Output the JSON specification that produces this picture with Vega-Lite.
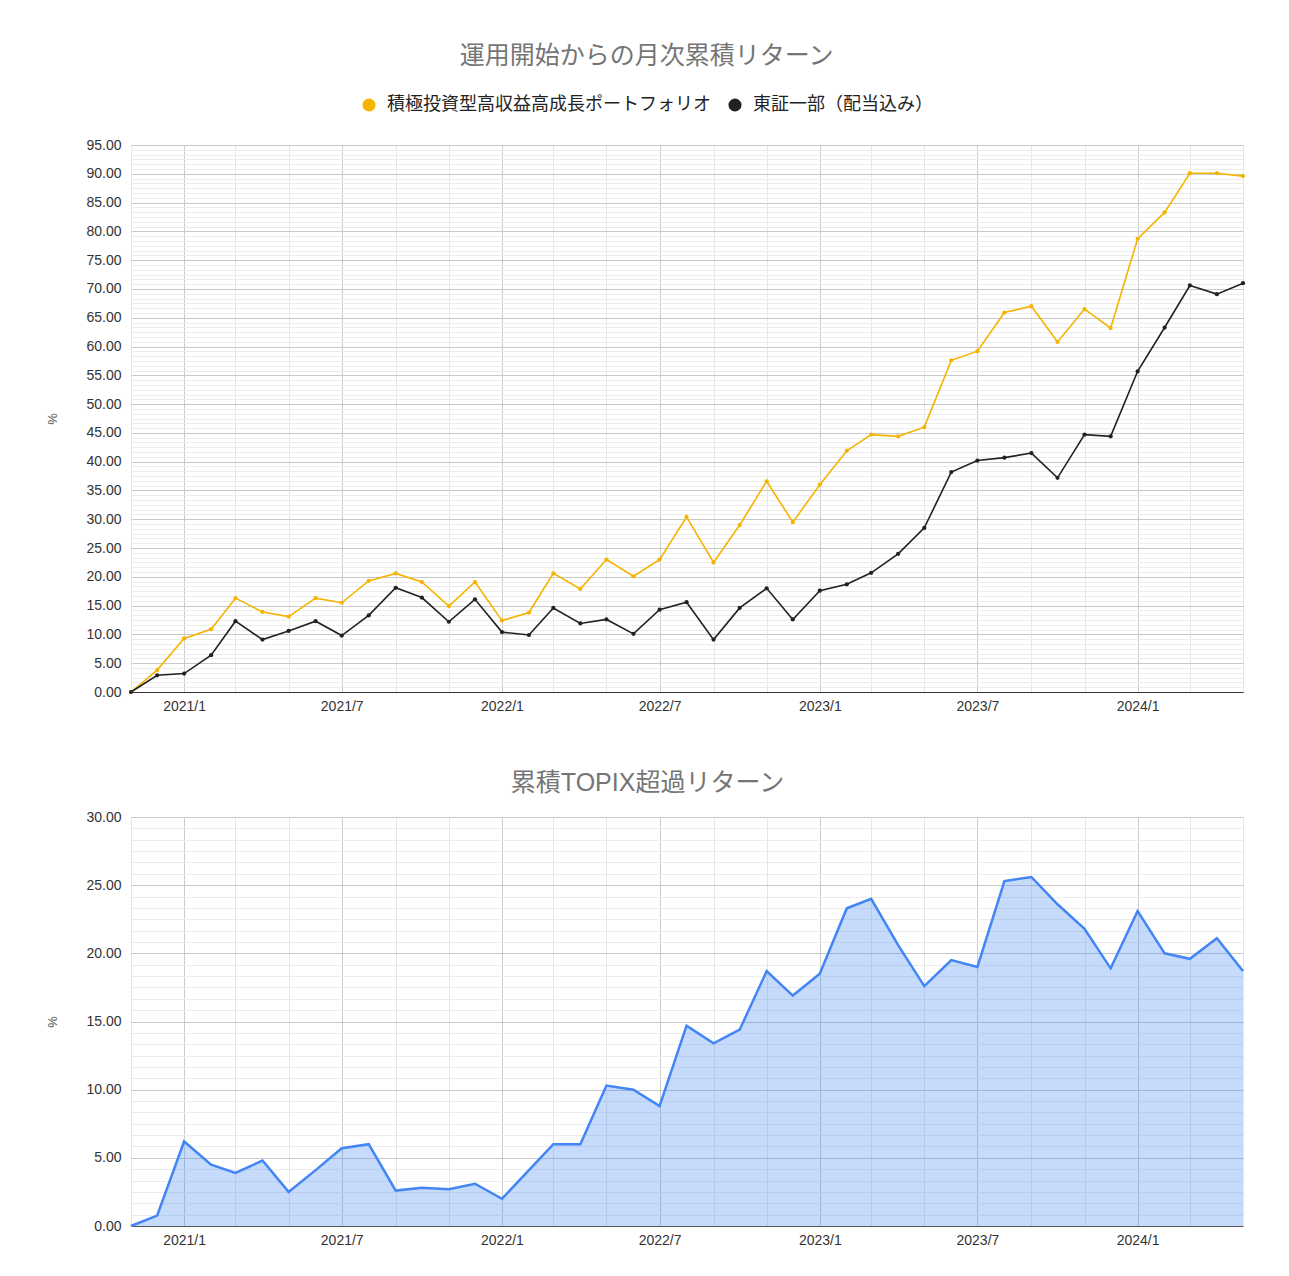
{
  "$schema": "https://vega.github.io/schema/vega-lite/v6.json",
  "padding": {"left": 46, "top": 44, "right": 10, "bottom": 10},
  "spacing": 58,
  "datasets": {
    "monthly": [
      {"date": "2020-11-01", "portfolio": 0, "topix": 0, "excess": 0},
      {"date": "2020-12-01", "portfolio": 3.8, "topix": 2.9, "excess": 0.76},
      {"date": "2021-01-01", "portfolio": 9.3, "topix": 3.2, "excess": 6.2},
      {"date": "2021-02-01", "portfolio": 10.9, "topix": 6.4, "excess": 4.5},
      {"date": "2021-03-01", "portfolio": 16.3, "topix": 12.3, "excess": 3.9},
      {"date": "2021-04-01", "portfolio": 13.9, "topix": 9.1, "excess": 4.8},
      {"date": "2021-05-01", "portfolio": 13.1, "topix": 10.6, "excess": 2.5},
      {"date": "2021-06-01", "portfolio": 16.3, "topix": 12.3, "excess": 4.1},
      {"date": "2021-07-01", "portfolio": 15.5, "topix": 9.8, "excess": 5.7},
      {"date": "2021-08-01", "portfolio": 19.3, "topix": 13.3, "excess": 6.0},
      {"date": "2021-09-01", "portfolio": 20.6, "topix": 18.1, "excess": 2.6},
      {"date": "2021-10-01", "portfolio": 19.1, "topix": 16.4, "excess": 2.8},
      {"date": "2021-11-01", "portfolio": 14.9, "topix": 12.2, "excess": 2.7},
      {"date": "2021-12-01", "portfolio": 19.1, "topix": 16.1, "excess": 3.1},
      {"date": "2022-01-01", "portfolio": 12.4, "topix": 10.4, "excess": 2.0},
      {"date": "2022-02-01", "portfolio": 13.8, "topix": 9.9, "excess": 4.1},
      {"date": "2022-03-01", "portfolio": 20.6, "topix": 14.6, "excess": 6.0},
      {"date": "2022-04-01", "portfolio": 17.9, "topix": 11.9, "excess": 6.0},
      {"date": "2022-05-01", "portfolio": 23.0, "topix": 12.6, "excess": 10.3},
      {"date": "2022-06-01", "portfolio": 20.1, "topix": 10.1, "excess": 10.0},
      {"date": "2022-07-01", "portfolio": 23.0, "topix": 14.3, "excess": 8.8},
      {"date": "2022-08-01", "portfolio": 30.4, "topix": 15.6, "excess": 14.7},
      {"date": "2022-09-01", "portfolio": 22.5, "topix": 9.1, "excess": 13.4},
      {"date": "2022-10-01", "portfolio": 29.0, "topix": 14.6, "excess": 14.4},
      {"date": "2022-11-01", "portfolio": 36.6, "topix": 18.0, "excess": 18.7},
      {"date": "2022-12-01", "portfolio": 29.5, "topix": 12.6, "excess": 16.9},
      {"date": "2023-01-01", "portfolio": 36.0, "topix": 17.6, "excess": 18.5},
      {"date": "2023-02-01", "portfolio": 41.9, "topix": 18.7, "excess": 23.3},
      {"date": "2023-03-01", "portfolio": 44.7, "topix": 20.7, "excess": 24.0},
      {"date": "2023-04-01", "portfolio": 44.4, "topix": 24.0, "excess": 20.6},
      {"date": "2023-05-01", "portfolio": 46.0, "topix": 28.5, "excess": 17.6},
      {"date": "2023-06-01", "portfolio": 57.6, "topix": 38.2, "excess": 19.5},
      {"date": "2023-07-01", "portfolio": 59.2, "topix": 40.2, "excess": 19.0},
      {"date": "2023-08-01", "portfolio": 65.9, "topix": 40.7, "excess": 25.3},
      {"date": "2023-09-01", "portfolio": 67.0, "topix": 41.5, "excess": 25.6},
      {"date": "2023-10-01", "portfolio": 60.8, "topix": 37.2, "excess": 23.6},
      {"date": "2023-11-01", "portfolio": 66.5, "topix": 44.7, "excess": 21.8},
      {"date": "2023-12-01", "portfolio": 63.2, "topix": 44.4, "excess": 18.9},
      {"date": "2024-01-01", "portfolio": 78.7, "topix": 55.7, "excess": 23.1},
      {"date": "2024-02-01", "portfolio": 83.3, "topix": 63.3, "excess": 20.0},
      {"date": "2024-03-01", "portfolio": 90.1, "topix": 70.6, "excess": 19.6},
      {"date": "2024-04-01", "portfolio": 90.1, "topix": 69.1, "excess": 21.1},
      {"date": "2024-05-01", "portfolio": 89.6, "topix": 71.0, "excess": 18.7}
    ]
  },
  "config": {
    "font": "Arial, Liberation Sans, Noto Sans CJK JP, sans-serif",
    "view": {"stroke": null},
    "title": {"fontSize": 25, "fontWeight": "normal", "color": "#757575", "anchor": "middle", "frame": "bounds", "font": "Arial, Liberation Sans, Noto Sans CJK JP, sans-serif"},
    "axis": {
      "labelFontSize": 14,
      "labelColor": "#333",
      "ticks": false,
      "titleFontSize": 13,
      "titleColor": "#555",
      "titleFontWeight": "normal",
      "labelOverlap": false,
      "labelFlush": false
    }
  },
  "resolve": {"legend": {"color": "independent"}},
  "vconcat": [
    {
      "title": {"text": "運用開始からの月次累積リターン", "offset": 27},
      "width": 1112,
      "height": 547,
      "data": {"name": "monthly"},
      "transform": [{"fold": ["portfolio", "topix"], "as": ["series", "value"]}],
      "encoding": {
        "x": {
          "field": "date",
          "type": "temporal",
          "scale": {"type": "utc", "domain": [{"year": 2020, "month": 11, "date": 1, "utc": true}, {"year": 2024, "month": 5, "date": 1, "utc": true}]},
          "axis": {
            "title": null,
            "tickCount": {"interval": "month", "step": 2},
            "labelExpr": "utcmonth(datum.value) % 6 == 0 ? utcFormat(datum.value, '%Y/%-m') : ''",
            "labelPadding": 7,
            "domainColor": "#333",
            "gridColor": {"condition": {"test": "utcmonth(datum.value) % 6 == 0", "value": "#cccccc"}, "value": "#e6e6e6"}
          }
        },
        "y": {
          "field": "value",
          "type": "quantitative",
          "scale": {"domain": [0, 95], "nice": false},
          "axis": {
            "title": "%",
            "titlePadding": 26,
            "labelPadding": 10,
            "domain": false,
            "values": {"expr": "sequence(0, 95.001, 5/6)"},
            "labelExpr": "abs(datum.value / 5 - round(datum.value / 5)) < 0.001 ? format(datum.value, '.2f') : ''",
            "gridColor": {"condition": {"test": "abs(datum.value / 5 - round(datum.value / 5)) < 0.001", "value": "#c8c8c8"}, "value": "#ececec"}
          }
        },
        "color": {
          "field": "series",
          "type": "nominal",
          "scale": {"domain": ["portfolio", "topix"], "range": ["#f4b400", "#222222"]},
          "legend": {
            "orient": "none",
            "legendX": 229,
            "legendY": -49,
            "direction": "horizontal",
            "title": null,
            "padding": 0,
            "symbolType": "circle",
            "symbolSize": 170,
            "symbolStrokeWidth": 0,
            "labelFontSize": 18,
            "labelColor": "#222",
            "columnPadding": 15,
            "labelOffset": 9,
            "labelLimit": 500,
            "labelExpr": "datum.label == 'portfolio' ? '積極投資型高収益高成長ポートフォリオ' : '東証一部（配当込み）'"
          }
        }
      },
      "layer": [
        {
          "mark": {"type": "circle", "size": 18, "opacity": 1}
        },
        {
          "mark": {"type": "line", "strokeWidth": 1.6}
        }
      ]
    },
    {
      "title": {"text": "累積TOPIX超過リターン", "offset": 14},
      "width": 1112,
      "height": 409,
      "data": {"name": "monthly"},
      "mark": {
        "type": "area",
        "fill": "#4285f4",
        "fillOpacity": 0.3,
        "line": {"stroke": "#4285f4", "strokeWidth": 2.5}
      },
      "encoding": {
        "x": {
          "field": "date",
          "type": "temporal",
          "scale": {"type": "utc", "domain": [{"year": 2020, "month": 11, "date": 1, "utc": true}, {"year": 2024, "month": 5, "date": 1, "utc": true}]},
          "axis": {
            "title": null,
            "tickCount": {"interval": "month", "step": 2},
            "labelExpr": "utcmonth(datum.value) % 6 == 0 ? utcFormat(datum.value, '%Y/%-m') : ''",
            "labelPadding": 7,
            "domainColor": "#555",
            "gridColor": {"condition": {"test": "utcmonth(datum.value) % 6 == 0", "value": "#cccccc"}, "value": "#e6e6e6"}
          }
        },
        "y": {
          "field": "excess",
          "type": "quantitative",
          "scale": {"domain": [0, 30], "nice": false},
          "axis": {
            "title": "%",
            "titlePadding": 26,
            "labelPadding": 10,
            "domain": false,
            "values": {"expr": "sequence(0, 30.001, 5/6)"},
            "labelExpr": "abs(datum.value / 5 - round(datum.value / 5)) < 0.001 ? format(datum.value, '.2f') : ''",
            "gridColor": {"condition": {"test": "abs(datum.value / 5 - round(datum.value / 5)) < 0.001", "value": "#c8c8c8"}, "value": "#ececec"}
          }
        }
      }
    }
  ]
}
